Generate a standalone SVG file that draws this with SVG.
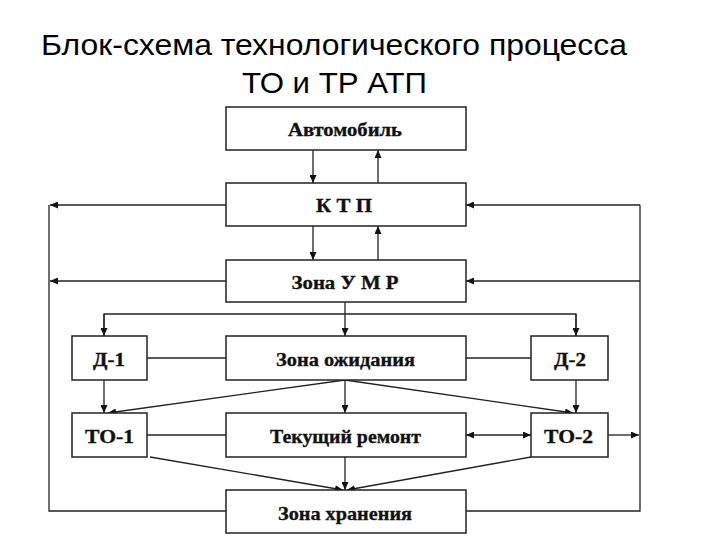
<svg xmlns="http://www.w3.org/2000/svg" width="720" height="540" viewBox="0 0 720 540">
<style>
.title{font-family:"Liberation Sans",Arial,sans-serif;font-size:30px;fill:#000}
.box{fill:#fff;stroke:#222;stroke-width:1.5}
.lbl{font-family:"Liberation Serif","Times New Roman",serif;font-weight:bold;font-size:19.5px;fill:#111;stroke:#111;stroke-width:0.35;text-anchor:middle}
.ln{fill:none;stroke:#222;stroke-width:1.3}
.ar{marker-end:url(#ah)}
</style>
<defs>
<marker id="ah" viewBox="0 0 8 7" refX="8" refY="3.5" markerWidth="8" markerHeight="7" markerUnits="userSpaceOnUse" orient="auto-start-reverse">
<path d="M0,0 L8,3.5 L0,7 z" fill="#111"/>
</marker>
</defs>
<rect width="720" height="540" fill="#fff"/>
<g id="title">
<text class="title" x="41" y="55" textLength="586" lengthAdjust="spacingAndGlyphs">Блок-схема технологического процесса</text>
<text class="title" x="242" y="93" textLength="185" lengthAdjust="spacingAndGlyphs">ТО и ТР АТП</text>
</g>
<g id="connectors">
<line class="ln ar" x1="313" y1="150" x2="313" y2="183"/>
<line class="ln ar" x1="378" y1="183" x2="378" y2="150"/>
<line class="ln ar" x1="313" y1="226" x2="313" y2="260"/>
<line class="ln ar" x1="378" y1="260" x2="378" y2="226"/>
<line class="ln ar" x1="226" y1="205" x2="50" y2="205"/>
<line class="ln ar" x1="226" y1="281" x2="50" y2="281"/>
<polyline class="ln" points="49,205 49,511 226,511"/>
<polyline class="ln" points="466,511 640,511 640,205"/>
<line class="ln ar" x1="640" y1="205" x2="466" y2="205"/>
<line class="ln ar" x1="640" y1="281" x2="466" y2="281"/>
<line class="ln ar" x1="345" y1="302" x2="345" y2="336"/>
<polyline class="ln" points="104,336 104,314 576,314 576,336"/>
<line class="ln ar" x1="104" y1="314" x2="104" y2="336"/>
<line class="ln ar" x1="576" y1="314" x2="576" y2="336"/>
<line class="ln" x1="147" y1="358" x2="226" y2="358"/>
<line class="ln" x1="466" y1="358" x2="531" y2="358"/>
<line class="ln ar" x1="104" y1="380" x2="104" y2="413"/>
<line class="ln ar" x1="576" y1="380" x2="576" y2="413"/>
<line class="ln ar" x1="345" y1="380" x2="345" y2="413"/>
<line class="ln ar" x1="345" y1="380" x2="108" y2="413"/>
<line class="ln ar" x1="345" y1="380" x2="573" y2="413"/>
<line class="ln" x1="147" y1="435" x2="226" y2="435"/>
<line class="ln ar" x1="466" y1="435" x2="531" y2="435" style="marker-start:url(#ah)"/>
<line class="ln ar" x1="608" y1="435" x2="639" y2="435"/>
<line class="ln ar" x1="345" y1="457" x2="345" y2="490"/>
<line class="ln ar" x1="150" y1="457" x2="343" y2="490"/>
<line class="ln ar" x1="531" y1="457" x2="347" y2="490"/>
</g>
<g id="avto"><rect class="box" x="226" y="107" width="240" height="43"/><text class="lbl" x="345" y="136" textLength="114" lengthAdjust="spacingAndGlyphs">Автомобиль</text></g>
<g id="ktp"><rect class="box" x="226" y="183" width="240" height="43"/><text class="lbl" x="344" y="212" textLength="56" lengthAdjust="spacingAndGlyphs">К Т П</text></g>
<g id="umr"><rect class="box" x="226" y="260" width="240" height="42"/><text class="lbl" x="345" y="289" textLength="107" lengthAdjust="spacingAndGlyphs">Зона У М Р</text></g>
<g id="d1"><rect class="box" x="72" y="336" width="75" height="44"/><text class="lbl" x="109" y="366" textLength="32" lengthAdjust="spacingAndGlyphs">Д-1</text></g>
<g id="ozh"><rect class="box" x="226" y="336" width="240" height="44"/><text class="lbl" x="345.5" y="366" textLength="139" lengthAdjust="spacingAndGlyphs">Зона ожидания</text></g>
<g id="d2"><rect class="box" x="531" y="336" width="77" height="44"/><text class="lbl" x="570" y="366" textLength="32" lengthAdjust="spacingAndGlyphs">Д-2</text></g>
<g id="to1"><rect class="box" x="72" y="413" width="75" height="44"/><text class="lbl" x="109.5" y="443" textLength="49" lengthAdjust="spacingAndGlyphs">ТО-1</text></g>
<g id="tr"><rect class="box" x="226" y="413" width="240" height="44"/><text class="lbl" x="345.5" y="443" textLength="151" lengthAdjust="spacingAndGlyphs">Текущий ремонт</text></g>
<g id="to2"><rect class="box" x="531" y="413" width="77" height="44"/><text class="lbl" x="568.5" y="443" textLength="49" lengthAdjust="spacingAndGlyphs">ТО-2</text></g>
<g id="zh"><rect class="box" x="226" y="490" width="240" height="43"/><text class="lbl" x="345" y="520" textLength="134" lengthAdjust="spacingAndGlyphs">Зона хранения</text></g>
</svg>
